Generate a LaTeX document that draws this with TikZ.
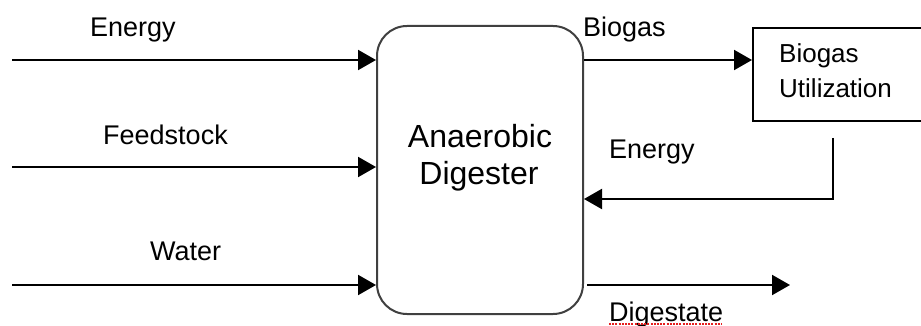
\documentclass[tikz,border=0pt]{standalone}
\usepackage{fontspec}
\setmainfont{Liberation Sans}
\usetikzlibrary{arrows.meta}
\definecolor{spellred}{RGB}{230,30,30}
\begin{document}
\begin{tikzpicture}[x=1pt,y=-1pt,
  flow/.style={line width=2pt, draw=black, -{Triangle[length=18pt,width=20pt]}},
  lbl/.style={anchor=base west, inner sep=0pt, font=\fontsize{27}{32}\selectfont},
  boxline/.style={draw=black!75, line width=2pt}]
\clip (0,0) rectangle (921,326);
\fill[white] (0,0) rectangle (921,326);
% main digester box
\node[boxline, rounded corners=30pt, minimum width=206pt, minimum height=288pt, inner sep=0pt] (dig) at (480,170) {};
\node[anchor=base, inner sep=0pt, font=\fontsize{32}{38}\selectfont] (dt1) at (480,147) {Anaerobic};
\node[anchor=base, inner sep=0pt, font=\fontsize{32}{38}\selectfont] (dt2) at (479,185) {Digester};
% biogas utilization box (runs off the right edge)
\node[draw=black, line width=1.6pt, minimum width=190pt, minimum height=93pt, inner sep=0pt, anchor=north west] (util) at (752,27) {};
\node[anchor=base west, inner sep=0pt, font=\fontsize{26}{33}\selectfont] (ut1) at (779,63) {Biogas};
\node[anchor=base west, inner sep=0pt, font=\fontsize{26}{33}\selectfont] (ut2) at (779,98) {Utilization};
% inputs
\coordinate (in1) at (12,60);
\coordinate (in2) at (12,167);
\coordinate (in3) at (12,285);
\draw[flow] (in1) -- (dig.west |- in1);
\draw[flow] (in2) -- (dig.west |- in2);
\draw[flow] (in3) -- (dig.west |- in3);
\node[lbl] (l1) at (90,37) {Energy};
\node[lbl] (l2) at (103,145) {Feedstock};
\node[lbl] (l3) at (150,260) {Water};
% biogas out
\coordinate (bg) at (583,60);
\draw[flow] (dig.east |- bg) -- (util.west |- bg);
\node[lbl] (l4) at (583,37) {Biogas};
% energy return
\coordinate (er0) at (833,138);
\coordinate (er1) at (833,199);
\draw[flow] (er0) -- (er1) -- (dig.east |- er1);
\node[lbl] (l5) at (609,158) {Energy};
% digestate
\coordinate (dg0) at (587,285);
\coordinate (dg1) at (790,285);
\draw[flow] (dg0) -- (dg1);
\node[lbl] (l6) at (609,321) {Digestate};
\draw[spellred, line width=2.5pt, dash pattern=on 2pt off 1.2pt] (l6.base west) ++(0,3) -- ++(113,0);
\end{tikzpicture}
\end{document}
